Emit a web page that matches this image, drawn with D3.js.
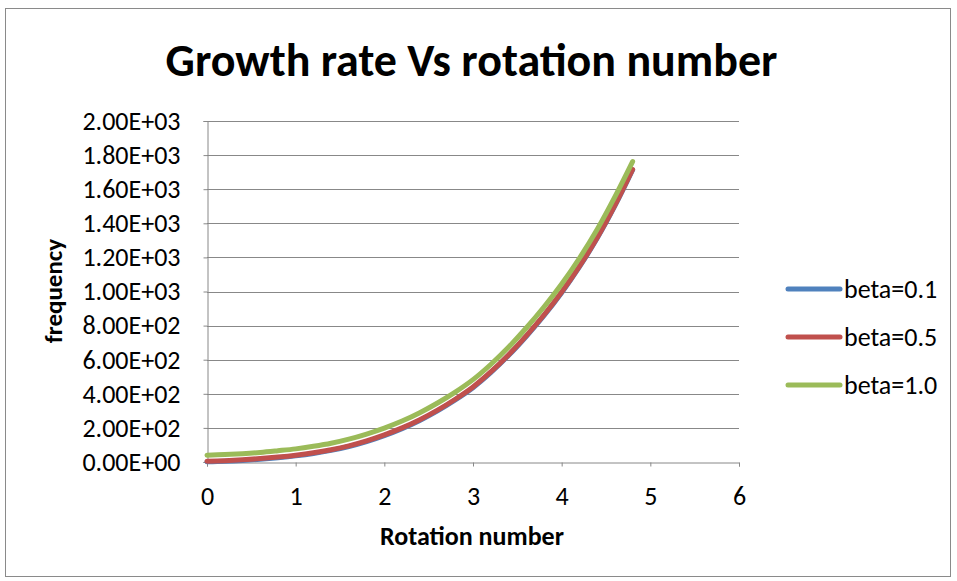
<!DOCTYPE html>
<html><head><meta charset="utf-8">
<script src="https://cdn.jsdelivr.net/npm/d3@7"></script>
<style>body{margin:0;background:#fff}svg{display:block}text{font-family:Carlito,Calibri,Lato,"Open Sans",sans-serif}</style>
</head><body>
<svg id="c" width="957" height="581"></svg>
<script>
const title = "Growth rate Vs rotation number";
const xTitle = "Rotation number";
const yTitle = "frequency";
const xTicks = [0,1,2,3,4,5,6];
const yTicks = [0,200,400,600,800,1000,1200,1400,1600,1800,2000];
const rotation = [0,0.2,0.4,0.6,0.8,1.0,1.2,1.4,1.6,1.8,2.0,2.2,2.4,2.6,2.8,3.0,3.2,3.4,3.6,3.8,4.0,4.2,4.4,4.6,4.8];
const beta01 = [1,4,9,16,25,36,50,68,91,120,155,196,244,300,364,436,524,624,736,858,993,1144,1312,1502,1713];
const beta05 = [5,8,13,20,29,40,54,72,95,124,159,200,248,304,368,440,528,628,740,862,997,1147,1315,1505,1716];
const beta10 = [40,44,49,56,66,77,92,110,134,164,199,240,289,346,410,483,572,673,786,909,1044,1195,1364,1555,1762];
const seriesNames = ["beta=0.1","beta=0.5","beta=1.0"];
const seriesValues = [beta01, beta05, beta10];
const colors = ["#4F81BD","#C0504D","#9BBB59"];

const svg = d3.select("#c");
svg.append("rect").attr("x",5.5).attr("y",8.5).attr("width",945).attr("height",568)
  .attr("fill","#fff").attr("stroke","#8a8a8a").attr("stroke-width",1);

const x = d3.scaleLinear().domain([0,6]).range([207,739]);
const y = d3.scaleLinear().domain([0,2000]).range([462,121]);

svg.append("g").selectAll("line").data(yTicks.slice(1)).join("line")
  .attr("x1",x(0)).attr("x2",x(6)).attr("y1",d=>Math.round(y(d))+0.5).attr("y2",d=>Math.round(y(d))+0.5)
  .attr("stroke","#888").attr("stroke-width",1);

const fmt = d => d===0 ? "0.00E+00" : d3.format(".2e")(d).replace("e+","E+0").toUpperCase();
const yAxis = d3.axisLeft(y).tickValues(yTicks).tickSize(4).tickFormat(fmt).tickPadding(23);
const gy = svg.append("g").attr("transform",`translate(${x(0)+0.5},0)`).call(yAxis);
gy.selectAll("text").attr("font-size",26).attr("fill","#000");
gy.selectAll("line").attr("stroke","#888");
gy.select(".domain").attr("stroke","#888");

const xAxis = d3.axisBottom(x).tickValues(xTicks).tickSize(4).tickFormat(d3.format("d")).tickPadding(20);
const gx = svg.append("g").attr("transform",`translate(0,${Math.round(y(0))+0.5})`).call(xAxis);
gx.selectAll("text").attr("font-size",26).attr("fill","#000");
gx.selectAll("line").attr("stroke","#888");
gx.select(".domain").attr("stroke","#888");

const line = d3.line().x((d,i)=>x(rotation[i])).y(d=>y(d)).curve(d3.curveCatmullRom);
seriesValues.forEach((vals,k)=>{
  svg.append("path").datum(vals).attr("d",line).attr("fill","none")
    .attr("stroke",colors[k]).attr("stroke-width",5).attr("stroke-linecap","round").attr("stroke-linejoin","round");
});

svg.append("text").attr("x",471.5).attr("y",76).attr("text-anchor","middle")
  .attr("font-size",46).attr("font-weight","bold").text(title);
svg.append("text").attr("x",472).attr("y",545).attr("text-anchor","middle")
  .attr("font-size",26).attr("font-weight","bold").text(xTitle);
svg.append("text").attr("transform","translate(62,291) rotate(-90)").attr("text-anchor","middle")
  .attr("font-size",25).attr("font-weight","bold").text(yTitle);

const legY = [289,337,385];
const lg = svg.append("g");
seriesNames.forEach((n,k)=>{
  lg.append("line").attr("x1",788).attr("x2",840).attr("y1",legY[k]).attr("y2",legY[k])
    .attr("stroke",colors[k]).attr("stroke-width",5).attr("stroke-linecap","round");
  lg.append("text").attr("x",844).attr("y",legY[k]+9).attr("font-size",26).text(n);
});
</script>
</body></html>
